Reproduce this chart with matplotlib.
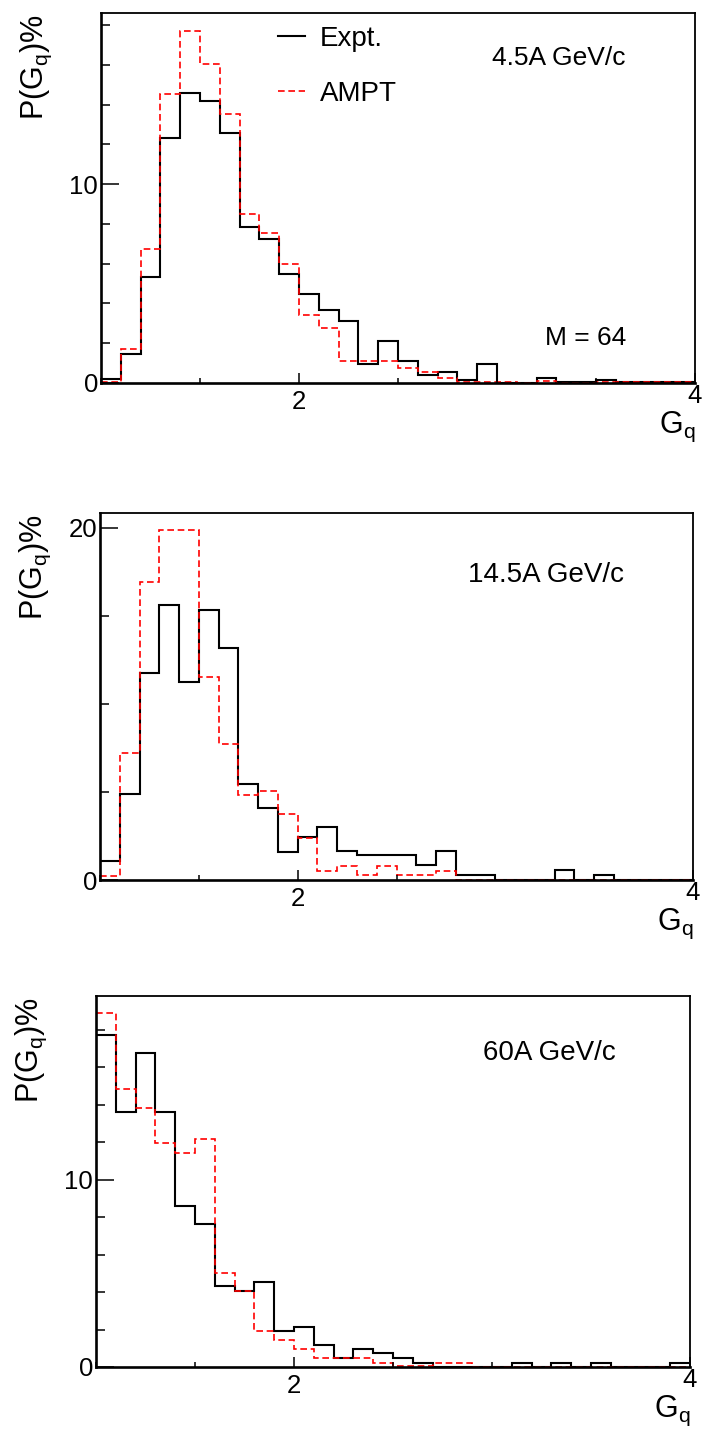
import numpy as np
import matplotlib
matplotlib.use('Agg')
import matplotlib.pyplot as plt
from matplotlib.ticker import MultipleLocator, FixedLocator

plt.rcParams['font.family'] = ['Liberation Sans', 'DejaVu Sans']
plt.rcParams['mathtext.fontset'] = 'custom'
plt.rcParams['mathtext.rm'] = 'Liberation Sans'
plt.rcParams['mathtext.it'] = 'Liberation Sans:italic'
plt.rcParams['mathtext.default'] = 'regular'

# G_q bins, width 0.1 from 1 to 4
gq_edges = np.linspace(1.0, 4.0, 31)

# P(G_q) in percent, one value per bin
expt_45 = [0.22, 1.45, 5.35, 12.34, 14.6, 14.16, 12.57, 7.86, 7.24, 5.5,
           4.45, 3.65, 3.1, 0.95, 2.09, 1.1, 0.40, 0.54, 0.15, 0.94,
           0.0, 0.02, 0.23, 0.05, 0.05, 0.17, 0.03, 0.03, 0.03, 0.03]
ampt_45 = [0.07, 1.7, 6.76, 14.55, 17.68, 16.05, 13.51, 8.49, 7.53, 5.97,
           3.44, 2.78, 1.1, 1.1, 1.1, 0.77, 0.54, 0.25, 0.07, 0.05,
           0.07, 0.02, 0.12, 0.02, 0.02, 0.07, 0.03, 0.03, 0.03, 0.03]

expt_145 = [1.08, 4.9, 11.76, 15.61, 11.23, 15.35, 13.18, 5.44, 4.08, 1.61,
            2.44, 2.99, 1.64, 1.40, 1.40, 1.40, 0.83, 1.64, 0.26, 0.26,
            0.0, 0.0, 0.0, 0.59, 0.0, 0.28, 0.0, 0.0, 0.0, 0.0]
ampt_145 = [0.23, 7.18, 16.92, 19.85, 19.85, 11.51, 7.73, 4.8, 5.05, 3.72,
            2.4, 0.53, 0.81, 0.30, 0.81, 0.30, 0.30, 0.53, 0.02, 0.02,
            0.0, 0.0, 0.0, 0.0, 0.0, 0.0, 0.0, 0.0, 0.0, 0.0]

expt_60 = [17.7, 13.6, 16.76, 13.6, 8.59, 7.65, 4.31, 4.05, 4.55, 1.91,
           2.14, 1.18, 0.46, 0.96, 0.73, 0.48, 0.23, 0.0, 0.0, 0.0,
           0.0, 0.23, 0.0, 0.23, 0.0, 0.23, 0.0, 0.0, 0.0, 0.23]
ampt_60 = [18.88, 14.81, 13.83, 11.93, 11.44, 12.17, 5.01, 4.05, 1.91, 1.43,
           0.94, 0.46, 0.46, 0.48, 0.23, 0.05, 0.05, 0.23, 0.23, 0.0,
           0.0, 0.0, 0.0, 0.0, 0.0, 0.0, 0.0, 0.0, 0.0, 0.0]

beam_labels = ['4.5A GeV/c', '14.5A GeV/c', '60A GeV/c']
y_max = [18.6, 20.83, 19.8]
y_major = [10, 20, 10]
y_minor = [2, 5, 2]

W, H = 703, 1431
fig = plt.figure(figsize=(W / 100, H / 100), dpi=100)

# frame boxes in pixels: left, right, top, bottom
boxes = [(101, 695, 13, 383), (100, 693, 513, 880), (96, 690, 996, 1367)]
label_pos = [(0.658, 0.859, 19), (0.6206, 0.812, 20), (0.6515, 0.8275, 20)]

series = [(expt_45, ampt_45), (expt_145, ampt_145), (expt_60, ampt_60)]

for i, (l, r, t, b) in enumerate(boxes):
    ax = fig.add_axes([l / W, 1 - b / H, (r - l) / W, (b - t) / H])
    expt, ampt = series[i]
    ax.stairs(expt, gq_edges, baseline=None, color='black', lw=1.5, label='Expt.')
    ax.stairs(ampt, gq_edges, baseline=None, color='red', lw=1.2,
              ls=(0, (4, 2.2)), label='AMPT')

    ax.set_xlim(1, 4)
    ax.set_ylim(0, y_max[i])

    ax.xaxis.set_major_locator(FixedLocator([2, 4]))
    ax.xaxis.set_minor_locator(MultipleLocator(0.5))
    ax.yaxis.set_major_locator(MultipleLocator(y_major[i]))
    ax.yaxis.set_minor_locator(MultipleLocator(y_minor[i]))
    ax.set_xticklabels(['2', ''])

    ax.tick_params(axis='x', which='major', direction='in', length=7.2, width=1.1,
                   labelsize=18.5, pad=5)
    ax.tick_params(axis='x', which='minor', direction='in', length=3.6, width=1.1)
    ax.tick_params(axis='y', which='major', direction='in', length=13, width=1.1,
                   labelsize=18.5, pad=2)
    ax.tick_params(axis='y', which='minor', direction='in', length=6.8, width=1.1)

    for side in ['top', 'right']:
        ax.spines[side].set_linewidth(1.3)
    for side in ['bottom', 'left']:
        ax.spines[side].set_linewidth(1.9)

    # last x label sits right under the corner
    ax.annotate('4', xy=(1, 0), xycoords='axes fraction', xytext=(0, -1),
                textcoords='offset points', ha='center', va='top', fontsize=18.5)
    ax.annotate('G$_{q}$', xy=(1, 0), xycoords='axes fraction', xytext=(0, -19),
                textcoords='offset points', ha='right', va='top', fontsize=22)
    ax.annotate('P(G$_{q}$)%', xy=(0, 1), xycoords='axes fraction', xytext=(-46.5, -1),
                textcoords='offset points', ha='center', va='top', fontsize=22,
                rotation=90)

    tx, ty, fs = label_pos[i]
    ax.text(tx, ty, beam_labels[i], transform=ax.transAxes, fontsize=fs,
            ha='left', va='baseline')

    if i == 0:
        ax.text(0.747, 0.103, 'M = 64', transform=ax.transAxes, fontsize=19,
                ha='left', va='baseline')
        ax.legend(loc='upper left', bbox_to_anchor=(0.298, 0.965), frameon=False,
                  fontsize=20, handlelength=0.97, handletextpad=0.55,
                  labelspacing=1.05, borderpad=0, borderaxespad=0)

fig.savefig('out.png', dpi=100)
